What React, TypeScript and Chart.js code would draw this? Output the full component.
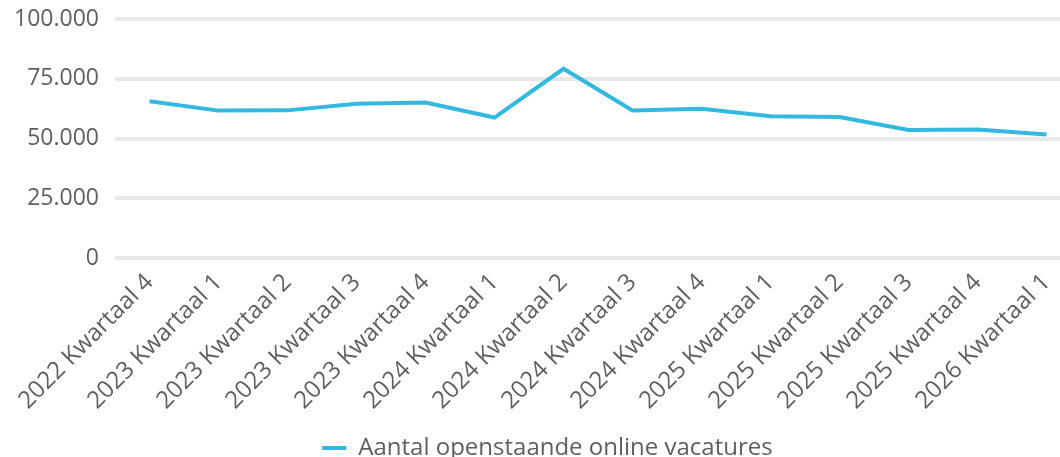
import React, { useEffect, useRef } from "react";
import { Chart, registerables } from "chart.js";

Chart.register(...registerables);

const categories = [
  "2022 Kwartaal 4",
  "2023 Kwartaal 1",
  "2023 Kwartaal 2",
  "2023 Kwartaal 3",
  "2023 Kwartaal 4",
  "2024 Kwartaal 1",
  "2024 Kwartaal 2",
  "2024 Kwartaal 3",
  "2024 Kwartaal 4",
  "2025 Kwartaal 1",
  "2025 Kwartaal 2",
  "2025 Kwartaal 3",
  "2025 Kwartaal 4",
  "2026 Kwartaal 1",
];

const vacatures = [
  65600, 61700, 61800, 64600, 65100, 58800, 79200, 61800, 62500, 59300, 59000, 53600, 53800, 51700,
];

const seriesLabel = "Aantal openstaande online vacatures";
const yTicks = [0, 25000, 50000, 75000, 100000];

const LINE_COLOR = "#33b8e0";
const TEXT_COLOR = "#5f5f5f";
const GRID_COLOR = "#e8e8e8";
const FONT = "'Open Sans', sans-serif";

function fmt(v: number): string {
  return String(Math.round(v)).replace(/\B(?=(\d{3})+(?!\d))/g, ".");
}

export default function App() {
  const ref = useRef<HTMLCanvasElement | null>(null);

  useEffect(() => {
    if (!ref.current) return;
    const chart = new Chart(ref.current, {
      type: "line",
      data: {
        labels: categories,
        datasets: [
          {
            label: seriesLabel,
            data: vacatures,
            borderColor: LINE_COLOR,
            backgroundColor: LINE_COLOR,
            borderWidth: 4,
            pointRadius: 0,
            tension: 0,
          },
        ],
      },
      options: {
        animation: false,
        responsive: false,
        maintainAspectRatio: false,
        layout: { padding: { top: 19, right: 0, left: 14, bottom: 0 } },
        plugins: {
          tooltip: { enabled: false },
          legend: {
            position: "bottom",
            labels: {
              color: TEXT_COLOR,
              font: { family: FONT, size: 24 },
              boxWidth: 24,
              boxHeight: 4,
              padding: 10,
              generateLabels: (c: any) =>
                (Chart.defaults.plugins.legend.labels.generateLabels as any)(c).map((l: any) => ({
                  ...l,
                  lineWidth: 0,
                  fillStyle: LINE_COLOR,
                })),
            },
          },
        },
        scales: {
          x: {
            offset: true,
            grid: { display: false },
            border: { display: false },
            afterFit: (axis: any) => {
              axis.paddingLeft = 0;
              axis.paddingRight = 0;
              axis.height += 9;
            },
            ticks: {
              color: TEXT_COLOR,
              font: { family: FONT, size: 24 },
              minRotation: 45,
              maxRotation: 45,
              autoSkip: false,
              padding: 2,
            },
          },
          y: {
            min: 0,
            max: 100000,
            afterBuildTicks: (axis: any) => {
              axis.ticks = yTicks.map((v) => ({ value: v }));
            },
            afterFit: (axis: any) => {
              axis.paddingTop = 0;
              axis.paddingBottom = 0;
              axis.paddingLeft = 0;
              axis.paddingRight = 0;
              axis.width = 101;
            },
            grid: { color: GRID_COLOR, lineWidth: 4, drawTicks: false },
            border: { display: false },
            ticks: {
              color: TEXT_COLOR,
              font: { family: FONT, size: 23 },
              padding: 16,
              callback: (v: any) => fmt(Number(v)),
            },
          },
        },
      },
    });
    return () => chart.destroy();
  }, []);

  return (
    <div
      style={{
        position: "fixed",
        left: 0,
        top: 0,
        width: 1060,
        height: 457,
        overflow: "hidden",
        background: "#fff",
      }}
    >
      <canvas ref={ref} width={1081} height={470} style={{ display: "block" }} />
    </div>
  );
}
